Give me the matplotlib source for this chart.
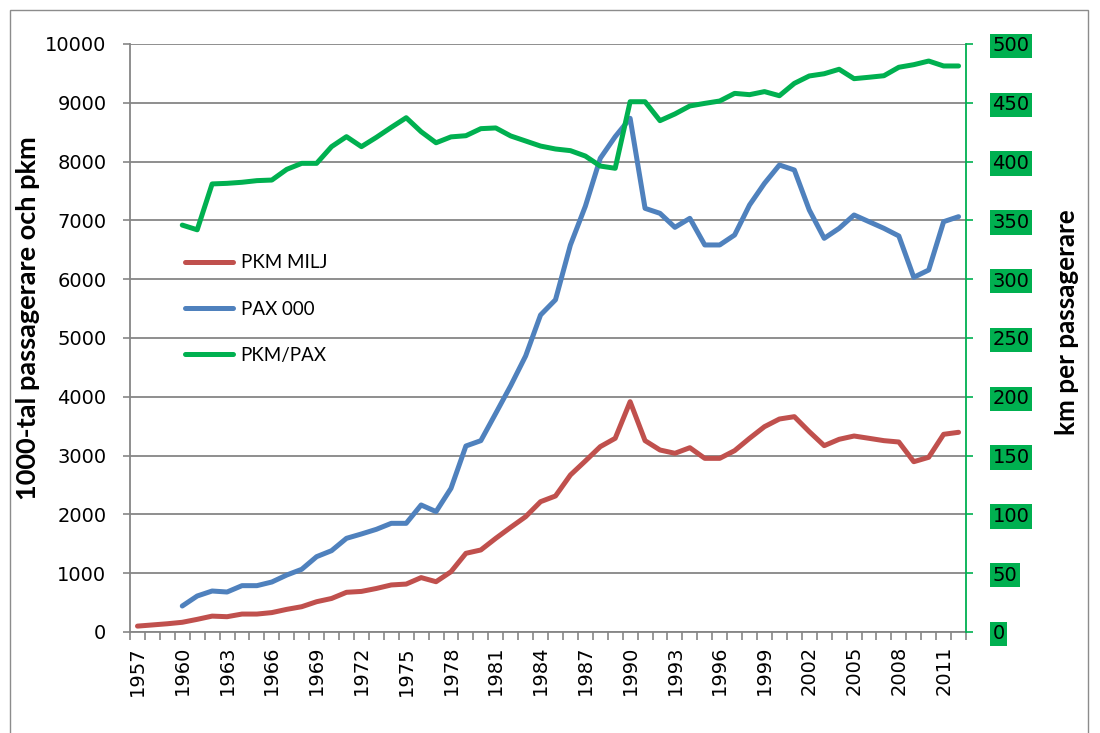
import matplotlib
matplotlib.use("Agg")
import matplotlib.pyplot as plt
import numpy as np
from matplotlib.lines import Line2D
from matplotlib.patches import Rectangle

# years on the category axis
years = list(range(1957, 2013))

# PKM MILJ (left axis)
pkm_milj = [100, 120, 140, 165, 215, 270, 260, 305, 305, 330,
            385, 430, 515, 570, 675, 690, 740, 800, 815, 925,
            855, 1025, 1338, 1395, 1593, 1780, 1961, 2216, 2313, 2670,
            2908, 3152, 3294, 3917, 3254, 3095, 3039, 3134, 2953, 2953,
            3084, 3294, 3492, 3622, 3662, 3407, 3169, 3277, 3333, 3294,
            3254, 3231, 2896, 2971, 3362, 3396]

# PAX 000 (left axis), no data before 1960
pax_000 = [np.nan, np.nan, np.nan, 442, 612, 697, 680, 788, 788, 850,
           969, 1066, 1281, 1383, 1593, 1667, 1746, 1848, 1848, 2160,
           2047, 2443, 3163, 3254, 3719, 4189, 4694, 5391, 5650, 6582,
           7240, 8056, 8424, 8736, 7205, 7120, 6882, 7035, 6582, 6582,
           6752, 7262, 7630, 7942, 7857, 7177, 6695, 6865, 7092, 6978,
           6865, 6735, 6032, 6156, 6978, 7063]

# PKM/PAX (right axis, km per passagerare)
pkm_pax = [np.nan, np.nan, np.nan, 346, 342, 381, 381.5, 382.4, 383.8, 384.3,
           393.4, 398.5, 398.5, 412.7, 421.2, 412.7, 420.6, 429.1, 437.3, 425.4,
           416, 421, 422, 428, 428.6, 421.8, 417.5, 413.2, 410.7, 409.3,
           404.7, 396.2, 394.3, 450.9, 450.9, 434.8, 440.5, 447.3, 449.5, 451.5,
           458, 456.9, 459.5, 456, 466.5, 472.8, 474.7, 478.5, 470.5, 471.7,
           473, 480.2, 482.4, 485.5, 481.3, 481.3]

left_ticks = list(range(0, 10001, 1000))
right_ticks = list(range(0, 501, 50))
year_labels = list(range(1957, 2012, 3))

red = "#C0504D"
blue = "#4F81BD"
green = "#00B050"
grey = "#868686"

fig = plt.figure(figsize=(11, 7.33), dpi=100)
ax = fig.add_axes([0.1182, 0.1378, 0.76, 0.8022])
ax2 = ax.twinx()

ax.plot(years, pkm_milj, color=red, lw=3.6, solid_capstyle="round")
ax.plot(years, pax_000, color=blue, lw=3.6, solid_capstyle="round")
ax2.plot(years, pkm_pax, color=green, lw=3.6, solid_capstyle="round")

# left axis
ax.set_ylim(0, 10000)
ax.set_yticks(left_ticks)
ax.set_yticklabels([str(t) for t in left_ticks], fontsize=14)
ax.tick_params(axis="y", length=5, width=1.2, color=grey, pad=12)
ax.yaxis.grid(True, color=grey, lw=1.3)
ax.set_axisbelow(True)
ax.set_ylabel("1000-tal passagerare och pkm", fontsize=19.5, fontweight="bold",
              family="Lato")
ax.yaxis.set_label_coords(-0.108, 0.534)

# category axis
ax.set_xlim(1956.5, 2012.5)
ax.set_xticks(year_labels)
ax.set_xticklabels([str(y) for y in year_labels], rotation=90, fontsize=14)
ax.set_xticks(np.arange(1956.5, 2013, 1), minor=True)
ax.tick_params(axis="x", which="major", length=0, pad=10)
ax.tick_params(axis="x", which="minor", length=6, width=1.2, color=grey)

for s in ["top", "right"]:
    ax.spines[s].set_visible(False)
    ax2.spines[s].set_visible(s == "right")
ax.spines["left"].set_color(grey)
ax.spines["bottom"].set_color(grey)
ax.spines["left"].set_linewidth(1.3)
ax.spines["bottom"].set_linewidth(1.3)
ax2.spines["left"].set_visible(False)
ax2.spines["bottom"].set_visible(False)
ax2.spines["right"].set_color(green)
ax2.spines["right"].set_linewidth(1.3)

# right axis with green boxed labels
ax2.set_ylim(0, 500)
ax2.set_yticks(right_ticks)
ax2.set_yticklabels([str(t) for t in right_ticks], fontsize=14)
ax2.tick_params(axis="y", length=5, width=1.2, color=green, pad=14)
for lbl in ax2.get_yticklabels():
    lbl.set_bbox(dict(facecolor=green, edgecolor="none", pad=2))
ax2.set_ylabel("km per passagerare", fontsize=18.8, fontweight="bold",
               family="Lato")
ax2.yaxis.set_label_coords(1.106, 0.527)

# legend inside the plot
handles = [Line2D([], [], color=red, lw=3.6, solid_capstyle="round"),
           Line2D([], [], color=blue, lw=3.6, solid_capstyle="round"),
           Line2D([], [], color=green, lw=3.6, solid_capstyle="round")]
leg = ax2.legend(handles, ["PKM MILJ", "PAX 000", "PKM/PAX"], loc="upper left",
                 bbox_to_anchor=(0.066, 0.642), frameon=False,
                 handlelength=2.55, handletextpad=0.4, labelspacing=1.55,
                 borderpad=0, borderaxespad=0, prop={"family": "Lato", "size": 13.5})

# outer chart border
fig.patches.append(Rectangle((10 / 1100, -0.01), 1078 / 1100, 1 - 10 / 733 + 0.01,
                             transform=fig.transFigure, fill=False,
                             edgecolor="#8c8c8c", lw=1))

fig.savefig("out.png", dpi=100)
